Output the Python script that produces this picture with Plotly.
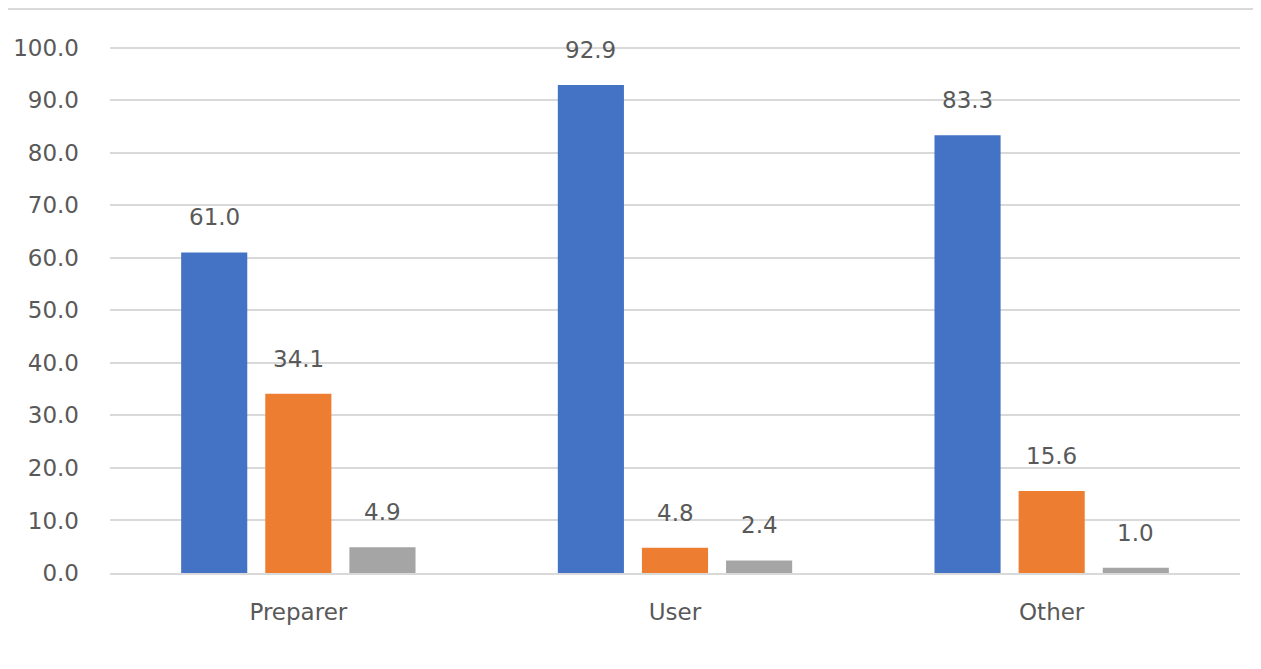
import plotly.graph_objects as go

categories = ["Preparer", "User", "Other"]
series_names = ["Series 1", "Series 2", "Series 3"]
series_values = [
    [61.0, 92.9, 83.3],
    [34.1, 4.8, 15.6],
    [4.9, 2.4, 1.0],
]
colors = ["#4472C4", "#ED7D31", "#A5A5A5"]
y_ticks = [0, 10, 20, 30, 40, 50, 60, 70, 80, 90, 100]

OFF = 8  # default page body margin
W, H = 1261 - OFF, 669 - OFF
L, R, T, B = 110 - OFF, 21, 46 - OFF, 96
plot_w = W - L - R
plot_h = H - T - B
YMAX = 100.3

fig = go.Figure()
for name, vals, col in zip(series_names, series_values, colors):
    fig.add_trace(go.Bar(name=name, x=categories, y=vals, marker_color=col,
                         marker_line_width=0, showlegend=False))

# data labels
cat_px = plot_w / len(categories)
bargap = 0.33
slot = cat_px * (1 - bargap) / len(series_values)
for i, vals in enumerate(series_values):
    off = (i - (len(series_values) - 1) / 2) * slot
    for c, v in zip(categories, vals):
        fig.add_annotation(x=c, y=v, text=f"{v:.1f}", showarrow=False,
                           xshift=off, yshift=35, yanchor="middle",
                           font=dict(family="DejaVu Sans", size=23, color="#595959"))

# top border line
ytop = (plot_h + T - 1) / plot_h
fig.add_shape(type="line", xref="paper", yref="paper",
              x0=-L / plot_w, x1=(W - L) / plot_w, y0=ytop, y1=ytop,
              line=dict(color="#d9d9d9", width=2))

fig.update_layout(
    width=W, height=H,
    margin=dict(l=L, r=R, t=T, b=B, autoexpand=False),
    paper_bgcolor="white", plot_bgcolor="white",
    barmode="group", bargap=bargap, bargroupgap=0.214,
    font=dict(family="DejaVu Sans", size=23, color="#595959"),
)
fig.update_yaxes(range=[0, YMAX], tickvals=y_ticks,
                 ticktext=[f"{t:.1f}" for t in y_ticks],
                 showgrid=True, gridcolor="#d9d9d9", gridwidth=1.5,
                 zeroline=False, showline=False, ticklabelstandoff=30,
                 automargin=False,
                 tickfont=dict(family="DejaVu Sans", size=23, color="#595959"))
fig.update_xaxes(showgrid=False, showline=True, linecolor="#d9d9d9", linewidth=1.5,
                 ticks="", ticklabelstandoff=18, automargin=False,
                 tickfont=dict(family="DejaVu Sans", size=23, color="#595959"))

fig.write_html("out.html")
